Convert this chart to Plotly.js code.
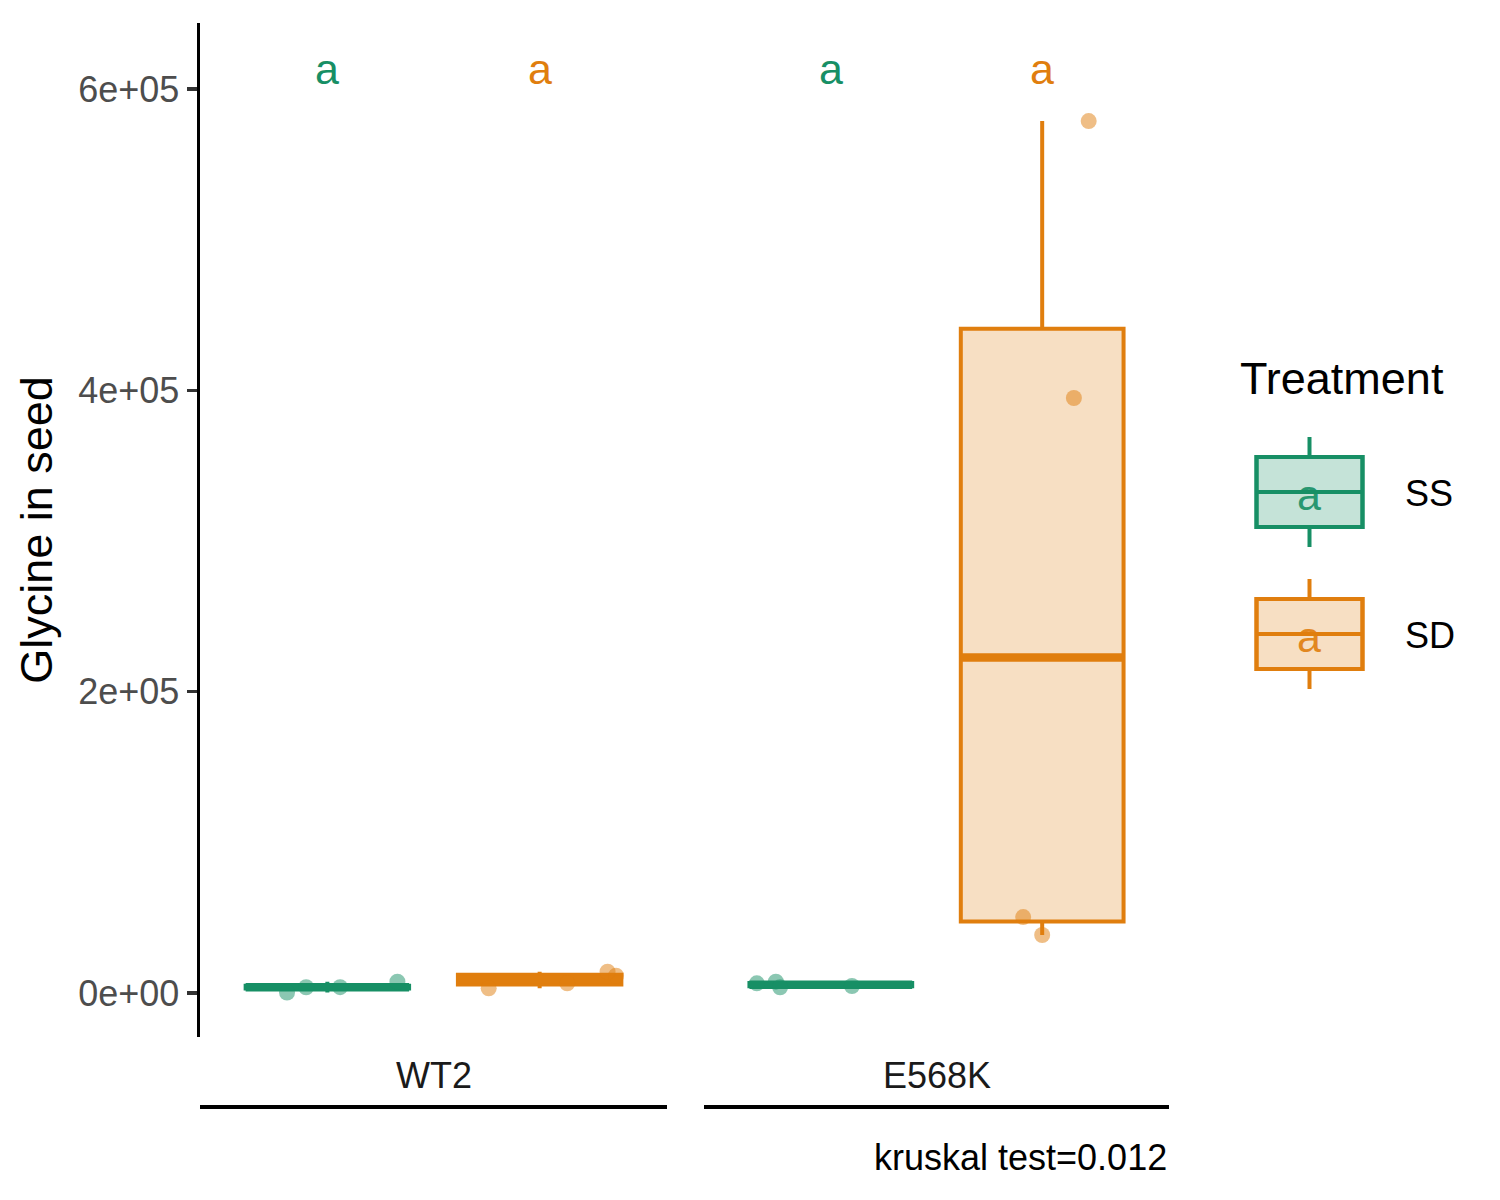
<!DOCTYPE html>
<html>
<head>
<meta charset="utf-8">
<script src="https://cdn.plot.ly/plotly-3.0.1.min.js"></script>
<style>
  html, body { margin: 0; padding: 0; background: #fff; }
  #chart { width: 1500px; height: 1200px; }
</style>
</head>
<body>
<div id="chart"></div>
<script>
// Glycine in seed — boxplots per treatment, faceted by genotype (strips at bottom)

const genotypes = ['WT2', 'E568K'];
const treatments = ['SS', 'SD'];

const wt2SS = [300, 3800, 3900, 7500];
const wt2SD = [3100, 6400, 14100, 11500];
const e568kSS = [6400, 7500, 3800, 4650];
const e568kSD = [578700, 394900, 50400, 38500];

// horizontal jitter of each point (x units, relative to the box centre)
const wt2SSJit = [-0.19, -0.10, 0.06, 0.33];
const wt2SDJit = [-0.24, 0.13, 0.32, 0.36];
const e568kSSJit = [-0.35, -0.26, -0.24, 0.10];
const e568kSDJit = [0.22, 0.15, -0.09, 0.00];

// compact letter display above each box
const letters = [['a', 'a'], ['a', 'a']];
const letterY = 613000;

const tickVals = [0, 200000, 400000, 600000];
const tickText = ['0e+00', '2e+05', '4e+05', '6e+05'];

const caption = 'kruskal test=0.012';
const yTitle = 'Glycine in seed';
const legendTitle = 'Treatment';

const groups = [[wt2SS, wt2SD], [e568kSS, e568kSD]];
const jitters = [[wt2SSJit, wt2SDJit], [e568kSSJit, e568kSDJit]];

const lineCol = { SS: '#178F65', SD: '#E07E0E' };
const fillCol = { SS: 'rgba(23,143,101,0.25)', SD: 'rgba(224,126,14,0.25)' };
const ptCol = { SS: 'rgba(23,143,101,0.5)', SD: 'rgba(224,126,14,0.5)' };

const FONT = 'Liberation Sans, Arial, Helvetica, sans-serif';
const BOX_W = 0.77;

// type-7 quantile, same as R's default
function quantile(sorted, p) {
  const h = (sorted.length - 1) * p;
  const lo = Math.floor(h), hi = Math.ceil(h);
  return sorted[lo] + (h - lo) * (sorted[hi] - sorted[lo]);
}
function boxStats(vals) {
  const s = vals.slice().sort((a, b) => a - b);
  const q1 = quantile(s, 0.25), med = quantile(s, 0.5), q3 = quantile(s, 0.75);
  const iqr = q3 - q1;
  const lo = s.filter(v => v >= q1 - 1.5 * iqr)[0];
  const hiArr = s.filter(v => v <= q3 + 1.5 * iqr);
  return { q1, med, q3, lo, hi: hiArr[hiArr.length - 1] };
}

const traces = [];
const annotations = [];
const shapes = [];

genotypes.forEach((g, gi) => {
  const xa = gi === 0 ? 'x' : 'x2';
  treatments.forEach((t, ti) => {
    const xpos = ti + 1;
    const vals = groups[gi][ti];
    const st = boxStats(vals);
    traces.push({
      type: 'box', xaxis: xa, yaxis: 'y',
      x: [xpos], q1: [st.q1], median: [st.med], q3: [st.q3],
      lowerfence: [st.lo], upperfence: [st.hi],
      width: BOX_W, whiskerwidth: 0, boxpoints: false,
      line: { color: lineCol[t], width: 4 },
      fillcolor: fillCol[t], hoverinfo: 'skip', showlegend: false
    });
    // ggplot draws the median fattened
    traces.push({
      type: 'scatter', mode: 'lines', xaxis: xa, yaxis: 'y',
      x: [xpos - BOX_W / 2, xpos + BOX_W / 2], y: [st.med, st.med],
      line: { color: lineCol[t], width: 8.5 },
      hoverinfo: 'skip', showlegend: false
    });
    traces.push({
      type: 'scatter', mode: 'markers', xaxis: xa, yaxis: 'y',
      x: jitters[gi][ti].map(j => xpos + j), y: vals,
      marker: { color: ptCol[t], size: 16, line: { width: 0 } },
      hoverinfo: 'skip', showlegend: false
    });
    annotations.push({
      xref: xa, yref: 'y', x: xpos, y: letterY, text: letters[gi][ti],
      showarrow: false, yanchor: 'middle',
      font: { family: FONT, size: 43, color: lineCol[t] }
    });
  });
  // strip label + axis line below it
  annotations.push({
    xref: xa + ' domain', yref: 'paper', x: 0.5, y: -0.0375, text: g,
    showarrow: false, yanchor: 'middle',
    font: { family: FONT, size: 36, color: '#1A1A1A' }
  });
  shapes.push({
    type: 'line', xref: xa + ' domain', yref: 'paper',
    x0: 0, x1: 1, y0: -0.069, y1: -0.069,
    line: { color: '#000', width: 4 }
  });
});

annotations.push({
  xref: 'paper', yref: 'paper', x: 1, y: -0.1193, text: caption,
  showarrow: false, xanchor: 'right', yanchor: 'middle',
  font: { family: FONT, size: 36, color: '#000' }
});

// hand-drawn legend keys (box glyph with a letter), in pixel terms of the 1500x1200 page
const M = { l: 200, r: 331, t: 23, b: 163 };
const PW = 1500 - M.l - M.r, PH = 1200 - M.t - M.b;
const px = x => (x - M.l) / PW;
const py = y => (1200 - M.b - y) / PH;

annotations.push({
  xref: 'paper', yref: 'paper', x: px(1238), y: py(378), text: legendTitle,
  showarrow: false, xanchor: 'left', yanchor: 'middle',
  font: { family: FONT, size: 45, color: '#000' }
});
treatments.forEach((t, i) => {
  const cy = 492 + i * 142, cx = 1309.5;
  shapes.push({
    type: 'line', xref: 'paper', yref: 'paper',
    x0: px(cx), x1: px(cx), y0: py(cy - 55), y1: py(cy + 55),
    line: { color: lineCol[t], width: 4 }
  });
  shapes.push({
    type: 'rect', xref: 'paper', yref: 'paper',
    x0: px(cx - 53), x1: px(cx + 53), y0: py(cy - 35), y1: py(cy + 35),
    line: { color: lineCol[t], width: 4 }, fillcolor: '#fff'
  });
  shapes.push({
    type: 'rect', xref: 'paper', yref: 'paper',
    x0: px(cx - 53), x1: px(cx + 53), y0: py(cy - 35), y1: py(cy + 35),
    line: { color: lineCol[t], width: 4 }, fillcolor: fillCol[t]
  });
  shapes.push({
    type: 'line', xref: 'paper', yref: 'paper',
    x0: px(cx - 53), x1: px(cx + 53), y0: py(cy), y1: py(cy),
    line: { color: lineCol[t], width: 4 }
  });
  annotations.push({
    xref: 'paper', yref: 'paper', x: px(cx - 1), y: py(cy + 3), text: 'a',
    showarrow: false, xanchor: 'center', yanchor: 'middle',
    font: { family: FONT, size: 43, color: lineCol[t] }, opacity: 0.9
  });
  annotations.push({
    xref: 'paper', yref: 'paper', x: px(1403), y: py(cy + 1), text: t,
    showarrow: false, xanchor: 'left', yanchor: 'middle',
    font: { family: FONT, size: 36, color: '#000' }
  });
});

const xCommon = {
  range: [0.4, 2.6], showticklabels: false, ticks: '', showline: false,
  showgrid: false, zeroline: false, fixedrange: true
};

const layout = {
  width: 1500, height: 1200,
  paper_bgcolor: '#fff', plot_bgcolor: '#fff',
  font: { family: FONT, color: '#000' },
  margin: M,
  showlegend: false,
  xaxis: Object.assign({ domain: [0, 467 / PW], anchor: 'y' }, xCommon),
  xaxis2: Object.assign({ domain: [504 / PW, 1], anchor: 'y' }, xCommon),
  yaxis: {
    range: [-29200, 643800],
    tickvals: tickVals, ticktext: tickText,
    ticks: 'outside', ticklen: 10, tickwidth: 3.5, tickcolor: '#333',
    tickfont: { family: FONT, size: 36, color: '#4D4D4D' },
    showline: true, linecolor: '#000', linewidth: 3.5,
    showgrid: false, zeroline: false,
    title: { text: yTitle, font: { family: FONT, size: 45, color: '#000' }, standoff: 12 }
  },
  shapes: shapes,
  annotations: annotations
};

Plotly.newPlot('chart', traces, layout, { displayModeBar: false, staticPlot: true });
</script>
</body>
</html>
